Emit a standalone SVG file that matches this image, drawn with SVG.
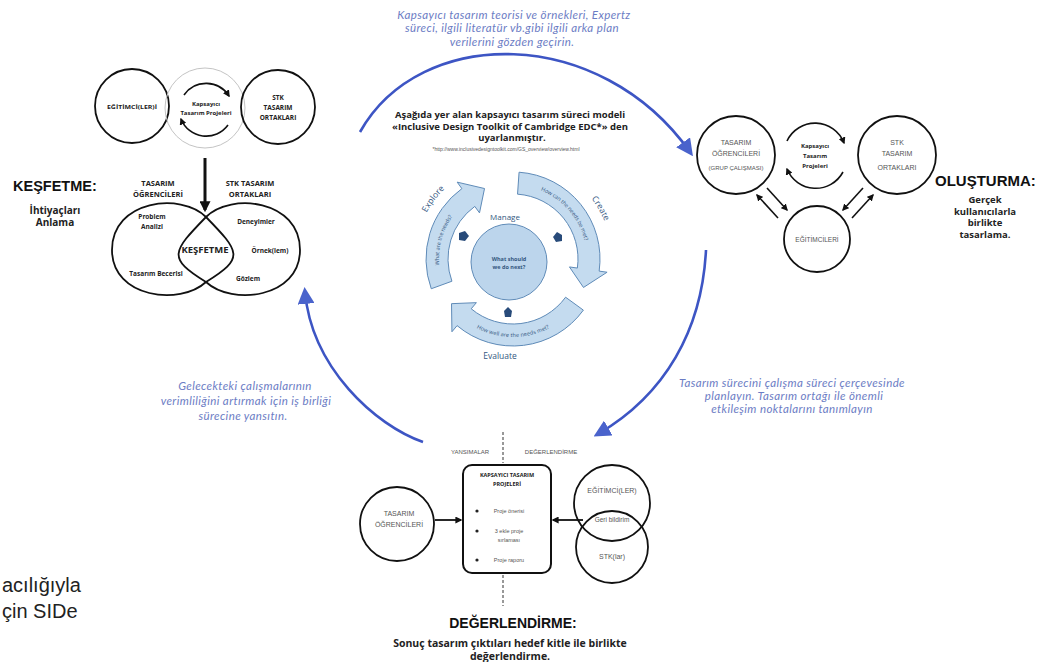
<svg xmlns="http://www.w3.org/2000/svg" width="1046" height="662" viewBox="0 0 1046 662">
<style>
.bk{fill:none;stroke:#111;stroke-width:1.8}
.thin{fill:none;stroke:#111;stroke-width:1.6}
.blue{fill:none;stroke:#3d55c4;stroke-width:2.6}
.bt{font-family:Lato,"Open Sans",sans-serif;font-style:italic;font-size:11.5px;letter-spacing:0.4px;fill:#6b7cc4;text-anchor:middle}
.lb{font-family:"Open Sans",sans-serif;font-weight:bold;fill:#222;text-anchor:middle}
.gr{font-family:"Liberation Sans",Arial,sans-serif;fill:#555;text-anchor:middle}
.hd{font-family:"Liberation Sans",Arial,sans-serif;font-weight:bold;fill:#111}
.band{fill:#c4dbef;stroke:#5f8bb8;stroke-width:1}
.cy{font-family:"Open Sans",sans-serif;fill:#34587f;text-anchor:middle}
</style>
<defs>
<marker id="ah" viewBox="0 0 10 10" refX="8" refY="5" markerWidth="7" markerHeight="7" markerUnits="userSpaceOnUse" orient="auto"><path d="M0,0 L10,5 L0,10 z" fill="#111"/></marker>
<marker id="ahb" viewBox="0 0 10 10" refX="8" refY="5" markerWidth="11" markerHeight="11" markerUnits="userSpaceOnUse" orient="auto"><path d="M0,0 L10,5 L0,10 z" fill="#111"/></marker>
<marker id="bh" viewBox="0 0 10 10" refX="7" refY="5" markerWidth="17" markerHeight="17" markerUnits="userSpaceOnUse" orient="auto"><path d="M0,0 L10,5 L0,10 z" fill="#4a63cc"/></marker>
<path id="pExp" d="M439.59,278.67 A76,76 0 0,1 466.21,199.11"/>
<path id="pCre" d="M523.58,183.74 A76,76 0 0,1 588.71,265.63"/>
<path id="pEva" d="M454.78,307.85 A76,76 0 0,0 571.22,307.85"/>
<path id="pExpL" d="M419.28,230.35 A98,98 0 0,1 459.63,176.81"/>
<path id="pCreL" d="M576.64,183.16 A99,99 0 0,1 610.5,241.81"/>
</defs>
<rect width="1046" height="662" fill="#fff"/>

<g id="connectors">
<path class="blue" d="M360,132 C420,25 600,25 690,152" marker-end="url(#bh)"/>
<path class="blue" d="M706,250 C702,330 665,395 598,434" marker-end="url(#bh)"/>
<path class="blue" d="M423,442 C375,425 312,368 305,292" marker-end="url(#bh)"/>
<line x1="205" y1="158" x2="205" y2="210" stroke="#111" stroke-width="3" marker-end="url(#ahb)"/>
<path class="thin" d="M184,95 A27,27 0 0,1 229,96" marker-end="url(#ah)"/>
<path class="thin" d="M228,125 A27,27 0 0,1 181,119" marker-end="url(#ah)"/>
<path class="thin" d="M787,141 A31,31 0 0,1 844,143" marker-end="url(#ah)"/>
<path class="thin" d="M843,172 A31,31 0 0,1 787,169" marker-end="url(#ah)"/>
<line class="thin" x1="767" y1="188" x2="787" y2="210" marker-end="url(#ah)"/>
<line class="thin" x1="778" y1="218" x2="757" y2="195" marker-end="url(#ah)"/>
<line class="thin" x1="863" y1="188" x2="843" y2="210" marker-end="url(#ah)"/>
<line class="thin" x1="852" y1="218" x2="873" y2="195" marker-end="url(#ah)"/>
<line x1="435" y1="520" x2="461" y2="520" stroke="#111" stroke-width="1.8" marker-end="url(#ah)"/>
<line x1="583" y1="520" x2="553" y2="520" stroke="#111" stroke-width="1.8" marker-end="url(#ah)"/>
<line x1="503" y1="432" x2="503" y2="463" stroke="#333" stroke-width="1" stroke-dasharray="3,2"/>
<line x1="503" y1="575" x2="503" y2="606" stroke="#333" stroke-width="1" stroke-dasharray="3,2"/>
</g>

<g id="top-note">
<text class="bt" x="514" y="19">Kapsayıcı tasarım teorisi ve örnekleri, Expertz</text>
<text class="bt" x="512" y="32">süreci, ilgili literatür vb.gibi ilgili arka plan</text>
<text class="bt" x="512" y="46">verilerini gözden geçirin.</text>
</g>

<g id="center-title">
<text class="lb" x="510" y="118" font-size="9.5">Aşağıda yer alan kapsayıcı tasarım süreci modeli</text>
<text class="lb" x="510" y="130" font-size="9.5">«Inclusive Design Toolkit of Cambridge EDC*» den</text>
<text class="lb" x="512" y="141" font-size="9.5">uyarlanmıştır.</text>
<text x="506" y="151" font-family="Liberation Sans,Arial,sans-serif" font-size="5" fill="#555" text-anchor="middle">*http://www.inclusivedesigntoolkit.com/GS_overview/overview.html</text>
</g>

<g id="design-cycle">
<path class="band" d="M431.25,288.75 A87,87 0 0,1 461.86,188.62 L457.16,182.14 L484.53,188.53 L479.5,212.89 L474.79,206.41 A65,65 0 0,0 451.92,281.23 Z"/>
<path class="band" d="M519.07,172.21 A87,87 0 0,1 599.16,271.11 L607.08,272.22 L583.47,287.47 L569.45,266.93 L577.37,268.05 A65,65 0 0,0 517.54,194.16 Z"/>
<path class="band" d="M583.38,310.14 A87,87 0 0,1 457.08,325.64 L451.93,331.77 L451.52,303.67 L476.36,302.66 L471.22,308.79 A65,65 0 0,0 565.59,297.21 Z"/>
<circle cx="509" cy="262" r="38" fill="#bcd5ec" stroke="#5f8bb8" stroke-width="1"/>
<text class="cy" font-size="5.5" dy="2"><textPath href="#pExp" startOffset="45%">What are the needs?</textPath></text>
<text class="cy" font-size="5.5" dy="2"><textPath href="#pCre" startOffset="47%">How can the needs be met?</textPath></text>
<text class="cy" font-size="5.5" dy="2"><textPath href="#pEva" startOffset="50%">How well are the needs met?</textPath></text>
<text class="cy" font-size="8.5"><textPath href="#pExpL" startOffset="50%">Explore</textPath></text>
<text class="cy" font-size="8.5"><textPath href="#pCreL" startOffset="50%">Create</textPath></text>
<text class="cy" font-size="8" x="505" y="220">Manage</text>
<text class="cy" font-size="8.5" x="500" y="359">Evaluate</text>
<text class="cy" font-size="5.5" x="509" y="261" font-weight="bold">What should</text>
<text class="cy" font-size="5.5" x="509" y="269" font-weight="bold">we do next?</text>
<polygon points="459,233 465,231 469,236 465,241 459,240" fill="#284b7a"/>
<polygon points="553,237 557,232 562,235 562,241 556,242" fill="#284b7a"/>
<polygon points="504,311 508,307 512,311 511,317 505,317" fill="#284b7a"/>
</g>

<g id="explore-cluster">
<g id="egitimci-left">
<circle class="bk" cx="132" cy="106" r="37"/>
<text class="lb" x="132" y="109" font-size="6" textLength="50" lengthAdjust="spacingAndGlyphs">EĞİTİMCİ(LER)İ</text>
</g>
<g id="kapsayici-left">
<circle cx="205" cy="108" r="40" fill="none" stroke="#c4c4c4" stroke-width="1"/>
<text class="lb" x="206" y="106" font-size="6">Kapsayıcı</text>
<text class="lb" x="206" y="115" font-size="6">Tasarım Projeleri</text>
</g>
<g id="stk-left">
<circle class="bk" cx="278" cy="107" r="37"/>
<text class="lb" x="278" y="100" font-size="6.5">STK</text>
<text class="lb" x="278" y="110" font-size="6.5">TASARIM</text>
<text class="lb" x="278" y="120" font-size="6.5">ORTAKLARI</text>
</g>
<g id="kesfetme-infinity">
<text class="lb" x="158" y="186" font-size="7.5">TASARIM</text>
<text class="lb" x="158" y="197" font-size="7.5">ÖĞRENCİLERİ</text>
<text class="lb" x="250" y="186" font-size="7.5">STK TASARIM</text>
<text class="lb" x="250" y="197" font-size="7.5">ORTAKLARI</text>
<path class="bk" d="M206,217 C181,192 112,200 112,250 C112,298 180,306 206,282 C245,258 240,252 206,217 Z"/>
<path class="bk" d="M206,217 C231,192 300,200 300,250 C300,298 232,306 206,282 C167,258 172,252 206,217 Z"/>
<text class="lb" x="152" y="219" font-size="6.5">Problem</text>
<text class="lb" x="152" y="229" font-size="6.5">Analizi</text>
<text class="lb" x="205" y="253" font-size="9.5">KEŞFETME</text>
<text class="lb" x="256" y="224" font-size="6.5">Deneyimler</text>
<text class="lb" x="270" y="253" font-size="6.5">Örnek(lem)</text>
<text class="lb" x="156" y="276" font-size="6.5">Tasarım Becerisi</text>
<text class="lb" x="248" y="281" font-size="6.5">Gözlem</text>
</g>
<g id="kesfetme-label">
<text class="hd" x="13" y="191" font-size="14.5">KEŞFETME:</text>
<text class="lb" x="55" y="214" font-size="10">İhtiyaçları</text>
<text class="lb" x="55" y="226" font-size="10">Anlama</text>
</g>
</g>

<g id="create-cluster">
<g id="ogrenci-right">
<circle class="bk" cx="736" cy="155" r="39"/>
<text class="gr" x="736" y="145" font-size="7">TASARIM</text>
<text class="gr" x="736" y="156" font-size="7">ÖĞRENCİLERİ</text>
<text class="gr" x="736" y="170" font-size="6">(GRUP ÇALIŞMASI)</text>
</g>
<g id="kapsayici-right">
<text class="lb" x="815" y="148" font-size="6">Kapsayıcı</text>
<text class="lb" x="815" y="158" font-size="6">Tasarım</text>
<text class="lb" x="815" y="168" font-size="6">Projeleri</text>
</g>
<g id="stk-right">
<circle class="bk" cx="897" cy="155" r="39"/>
<text class="gr" x="897" y="145" font-size="7">STK</text>
<text class="gr" x="897" y="156" font-size="7">TASARIM</text>
<text class="gr" x="897" y="170" font-size="7">ORTAKLARI</text>
</g>
<g id="egitimci-right">
<circle class="bk" cx="817" cy="239" r="33"/>
<text class="gr" x="817" y="242" font-size="6.5">EĞİTİMCİLERİ</text>
</g>
<g id="olusturma-label">
<text class="hd" x="935" y="186" font-size="15">OLUŞTURMA:</text>
<text class="lb" x="985" y="203" font-size="9.5">Gerçek</text>
<text class="lb" x="985" y="214.5" font-size="9.5">kullanıcılarla</text>
<text class="lb" x="985" y="226" font-size="9.5">birlikte</text>
<text class="lb" x="985" y="237.5" font-size="9.5">tasarlama.</text>
</g>
</g>

<g id="right-note">
<text class="bt" x="792" y="387">Tasarım sürecini çalışma süreci çerçevesinde</text>
<text class="bt" x="794" y="400">planlayın. Tasarım ortağı ile önemli</text>
<text class="bt" x="792" y="413">etkileşim noktalarını tanımlayın</text>
</g>

<g id="left-note">
<text class="bt" x="245" y="390">Gelecekteki çalışmalarının</text>
<text class="bt" x="246" y="405">verimliliğini artırmak için iş birliği</text>
<text class="bt" x="243" y="420">sürecine yansıtın.</text>
</g>

<g id="evaluate-cluster">
<text class="gr" x="470" y="454" font-size="6">YANSIMALAR</text>
<text class="gr" x="551" y="454" font-size="6">DEĞERLENDİRME</text>
<g id="proje-box">
<rect x="463" y="465" width="88" height="108" rx="9" fill="#fff" stroke="#111" stroke-width="2"/>
<text class="lb" x="507" y="477" font-size="5.5">KAPSAYICI TASARIM</text>
<text class="lb" x="507" y="486" font-size="5.5">PROJELERİ</text>
<circle cx="477" cy="511" r="1.6" fill="#222"/>
<text class="gr" x="509" y="513" font-size="5.5">Proje önerisi</text>
<circle cx="477" cy="531" r="1.6" fill="#222"/>
<text class="gr" x="509" y="533" font-size="5.5">3 ekle proje</text>
<text class="gr" x="509" y="542" font-size="5.5">sırlaması</text>
<circle cx="477" cy="560" r="1.6" fill="#222"/>
<text class="gr" x="509" y="562" font-size="5.5">Proje raporu</text>
</g>
<g id="ogrenci-bottom">
<circle class="bk" cx="397" cy="524" r="37"/>
<text class="gr" x="399" y="516" font-size="7">TASARIM</text>
<text class="gr" x="399" y="527" font-size="7">ÖĞRENCİLERİ</text>
</g>
<g id="egitimci-bottom">
<circle class="bk" cx="612" cy="503" r="38"/>
<text class="gr" x="612" y="493" font-size="7">EĞİTİMCİ(LER)</text>
</g>
<g id="stk-bottom">
<circle class="bk" cx="612" cy="547" r="36"/>
<text class="gr" x="612" y="559" font-size="7">STK(lar)</text>
</g>
<text class="gr" x="612" y="522" font-size="6.5">Geri bildirim</text>
<g id="degerlendirme-label">
<text class="hd" x="513" y="628" font-size="14" text-anchor="middle">DEĞERLENDİRME:</text>
<text class="lb" x="510" y="647" font-size="10.5">Sonuç tasarım çıktıları hedef kitle ile birlikte</text>
<text class="lb" x="510" y="660" font-size="10.5">değerlendirme.</text>
</g>
</g>

<g id="left-edge-text">
<text x="2" y="592" font-family="Liberation Sans,Arial,sans-serif" font-size="20" fill="#222">acılığıyla</text>
<text x="2" y="618" font-family="Liberation Sans,Arial,sans-serif" font-size="20" fill="#222">çin SIDe</text>
</g>
</svg>
